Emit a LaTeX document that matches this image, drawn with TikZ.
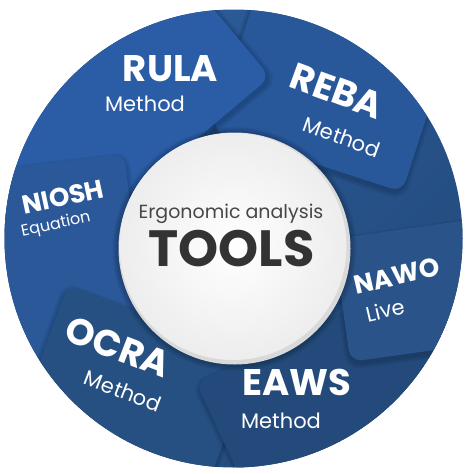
\documentclass[tikz,border=0pt]{standalone}
\usepackage{fontspec}
\setmainfont{Poppins}
\definecolor{rulablue}{HTML}{2A5DA6}
\definecolor{rebablue}{HTML}{28579A}
\definecolor{nioshblue}{HTML}{2A5899}
\definecolor{ocrablue}{HTML}{264F82}
\definecolor{eawsblue}{HTML}{234A7A}
\definecolor{nawoblue}{HTML}{2A5489}
\definecolor{ringtop}{HTML}{2C5C9C}
\definecolor{ringbot}{HTML}{234B7C}
\definecolor{tooltext}{HTML}{333333}
% card: colour, cx, cy, angle, width, height
\newcommand{\card}[6]{%
  \foreach \k in {1,...,5}{\fill[black,opacity=.03,rounded corners=14pt,rotate around={#4:(#2,#3)}] (#2-#5/2-\k,#3-#6/2-\k+3) rectangle (#2+#5/2+\k,#3+#6/2+\k+3);}
  \fill[#1,rounded corners=12pt,rotate around={#4:(#2,#3)}] (#2-#5/2,#3-#6/2) rectangle (#2+#5/2,#3+#6/2);}
\begin{document}
\begin{tikzpicture}[x=1pt,y=-1pt,line cap=butt,line join=miter]
	\tikzset{big/.style={text=white,font=\bfseries\fontsize{37}{37}\selectfont},
		mid/.style={text=white,font=\bfseries\fontsize{26}{26}\selectfont},
		sub/.style={text=white,font=\fontsize{21}{21}\selectfont},
		small/.style={text=white,font=\fontsize{16}{16}\selectfont}}
	\useasboundingbox (0,0) rectangle (474,474);
	\coordinate (c) at (233.5,238.5);
	\shade[top color=ringtop,bottom color=ringbot,shading angle=45] (c) circle[radius=229];
	\begin{scope}
		\clip (c) circle[radius=229];
		\card{rebablue}{338}{66}{-18}{200}{200}
		\card{rulablue}{59}{58.5}{40}{300}{300}
		\card{nioshblue}{57}{263}{7}{160}{200}
		\card{ocrablue}{131}{404}{-20}{200}{180}
		\card{eawsblue}{356}{418}{25}{260}{200}
		\card{nawoblue}{416}{290}{8}{150}{124}
	\end{scope}
	% centre disc
	\foreach \k in {1,...,6} \fill[black,opacity=.04] (234.5,249) circle[radius=116+\k];
	\fill[black!15] (234.5,248.5) circle[radius=116];
	\shade[inner color=white,outer color=black!7] (233,246.5) circle[radius=113.5];
	\node[big] (rula) at (170.5,68.5) {RULA};
	\node[sub] (rulam) at (145,104) {Method};
	\node[big,rotate=-20] (reba) at (337,91) {REBA};
	\node[sub,rotate=-20] (rebam) at (342,137) {Method};
	\node[mid,rotate=12] (niosh) at (63,197) {NIOSH};
	\node[small,rotate=12] (nioshm) at (56,225) {Equation};
	\node[mid,rotate=13] (nawo) at (397,276) {NAWO};
	\node[sub,rotate=13] (nawom) at (385,310) {Live};
	\node[big,rotate=-21] (ocra) at (118,347) {OCRA};
	\node[sub,rotate=-21] (ocram) at (123,391) {Method};
	\node[big] (eaws) at (297,382) {EAWS};
	\node[sub] (eawsm) at (281,421) {Method};
	\node[text=tooltext!90,font=\fontsize{19}{19}\selectfont,anchor=base] (ergo) at (231,218) {Ergonomic analysis};
	\node[text=tooltext,font=\bfseries\fontsize{51}{51}\selectfont] (tools) at (231.5,248.5) {TOOLS};
\end{tikzpicture}
\end{document}
